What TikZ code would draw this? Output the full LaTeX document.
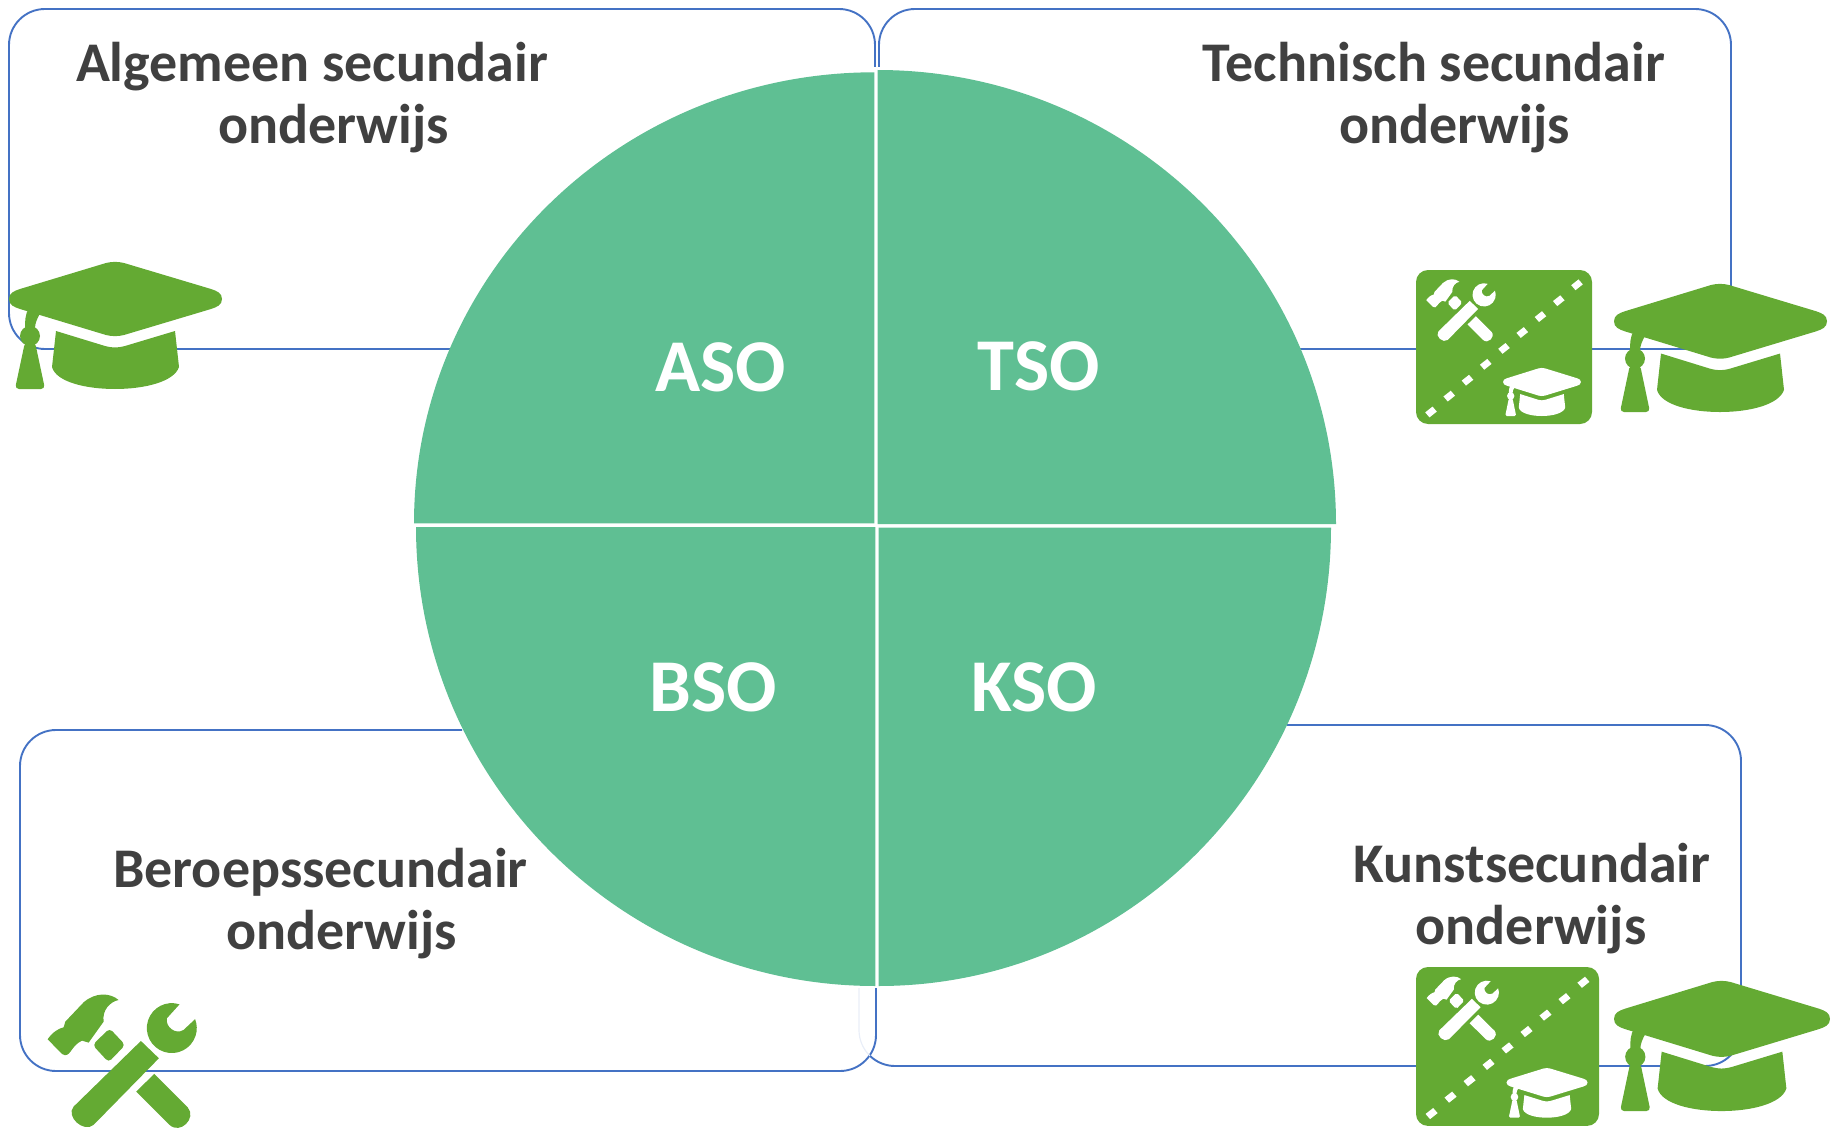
\documentclass[tikz,border=0pt]{standalone}
\usepackage{fontspec}
\setmainfont{Carlito}
\definecolor{boxblue}{HTML}{4472C4}
\definecolor{sectorgreen}{HTML}{5FBF93}
\definecolor{icongreen}{HTML}{64AA33}
\definecolor{labelgray}{HTML}{404040}
\tikzset{
  boxline/.style={draw=boxblue,line width=1.9pt,rounded corners=36pt},
  sector/.style={fill=sectorgreen},
  title/.style={anchor=base,text=labelgray,inner sep=0pt,font=\fontsize{56}{56}\selectfont\bfseries},
  abbrev/.style={anchor=base,text=white,inner sep=0pt,font=\fontsize{74.5}{75}\selectfont\bfseries}
}
\newcommand{\capicon}[5]{
\begin{scope}[shift={(#1,#2)},xscale=#3,yscale=#4,fill=#5]
\fill (0,37) .. controls (0,31) and (5,29) .. (11,27) -- (97,1) .. controls (103,-0.5) and (109,-0.5) .. (115,1) -- (202,27) .. controls (208,29) and (213,31) .. (213,37) .. controls (213,43) and (208,45) .. (202,47) -- (115,73) .. controls (109,74.5) and (103,74.5) .. (97,73) -- (11,47) .. controls (5,45) and (0,43) .. (0,37) -- cycle;
\fill (20,46) -- (32,50) .. controls (28,56) and (26,62) .. (26,66) -- (16,66) .. controls (16,60) and (16,52) .. (20,46) -- cycle;
\fill (21,74) circle[radius=10];
\fill[rounded corners=#3*4pt] (16,80) -- (26,80) -- (36,127) -- (6,127) -- cycle;
\fill (47,69) -- (96,84) .. controls (104,86) and (108,86) .. (116,84) -- (166,69) -- (170,105) .. controls (165,120) and (135,127) .. (106,127) .. controls (77,127) and (47,120) .. (43,105) -- cycle;
\end{scope}
}
\newcommand{\toolicon}[5]{
\begin{scope}[shift={(#1,#2)},xscale=#3,yscale=#4,shift={(-80,-72)},fill=#5]
\fill (295,90) .. controls (270,68) and (225,66) .. (190,97) -- (135,155) -- (130,172) .. controls (115,175) and (95,188) .. (82,208) -- (125,252) .. controls (150,268) and (150,228) .. (185,212) -- (205,218) -- (250,155) .. controls (245,120) and (270,95) .. (295,90) -- cycle;
\fill[rounded corners=#3*12pt] (268,175) -- (315,225) -- (265,277) -- (217,225) -- cycle;
\fill (362,213) -- (416,265) -- (220,465) .. controls (190,490) and (135,440) .. (160,410) -- cycle;
\fill (402,312) -- (503,413) .. controls (530,445) and (480,495) .. (448,465) -- (348,365) -- cycle;
\fill (478,103) arc[start angle=-72,end angle=-381,radius=75] -- (490,180) .. controls (465,195) and (435,170) .. (440,145) -- cycle;
\end{scope}
}
\newcommand{\tileicon}[4]{
\begin{scope}[shift={(#1,#2)},xscale=#3,yscale=#4]
\fill[icongreen,rounded corners=12pt] (0,0) rectangle (176,154);
\foreach \i in {0,...,8}
  \fill[white,shift={(15+18.25*\i,142-15.9*\i)}] (5.8,-0.4) -- (1.5,-5.4) -- (-5.8,0.4) -- (-1.5,5.4) -- cycle;
\toolicon{10}{9}{0.155}{0.155}{white}
\capicon{87}{98}{0.366}{0.378}{white}
\end{scope}
}
\begin{document}
\begin{tikzpicture}[x=1pt,y=1pt,yscale=-1]
\useasboundingbox (0,0) rectangle (1834,1129);

\draw[boxline] (875,67) -- (875,9) -- (9,9) -- (9,349) -- (450,349);
\draw[boxline] (879,67) -- (879,9) -- (1731,9) -- (1731,349) -- (1300,349);
\draw[boxline] (462,730) -- (20,730) -- (20,1071) -- (876,1071) -- (876,988);
\draw[draw=boxblue!12,line width=1.2pt,rounded corners=36pt] (859,988) -- (859,1066) -- (900,1066);
\draw[boxline] (1287,725) -- (1741,725) -- (1741,1066) -- (895,1066);
\draw[draw=boxblue,line width=1.9pt] (895,1066) arc[start angle=90,end angle=134,radius=36];

\fill[sector] (874.3,523.3) -- (414,523.3) arc[start angle=180,end angle=270,x radius=460.3,y radius=451] -- cycle;
\fill[sector] (877.7,524) -- (877.7,70) arc[start angle=270,end angle=360,x radius=458.3,y radius=454] -- cycle;
\fill[sector] (875.3,527) -- (416,527) arc[start angle=180,end angle=90,x radius=459.3,y radius=459] -- cycle;
\fill[sector] (878.7,527.5) -- (1331,527.5) arc[start angle=0,end angle=90,x radius=452.3,y radius=458.5] -- cycle;

\node[abbrev] (aso) at (720.5,391) {ASO};
\node[abbrev] (tso) at (1039,390) {TSO};
\node[abbrev] (bso) at (713.5,711) {BSO};
\node[abbrev] (kso) at (1034,711) {KSO};

\node[title] (asoline1) at (312,82) {Algemeen secundair};
\node[title] (asoline2) at (333.5,143) {onderwijs};
\node[title] (tsoline1) at (1434,82) {Technisch secundair};
\node[title] (tsoline2) at (1454.5,143) {onderwijs};
\node[title] (bsoline1) at (320.5,887) {Beroepssecundair};
\node[title] (bsoline2) at (341.5,949) {onderwijs};
\node[title] (ksoline1) at (1532,882) {Kunstsecundair};
\node[title] (ksoline2) at (1531,944) {onderwijs};

\capicon{9}{262}{1}{1}{icongreen}
\capicon{1614}{284}{1}{1.008}{icongreen}
\capicon{1614}{981}{1.014}{1.024}{icongreen}
\toolicon{47}{994}{0.333}{0.333}{icongreen}
\tileicon{1416}{270}{1}{1}
\tileicon{1416}{967}{1.04}{1.032}
\end{tikzpicture}
\end{document}
